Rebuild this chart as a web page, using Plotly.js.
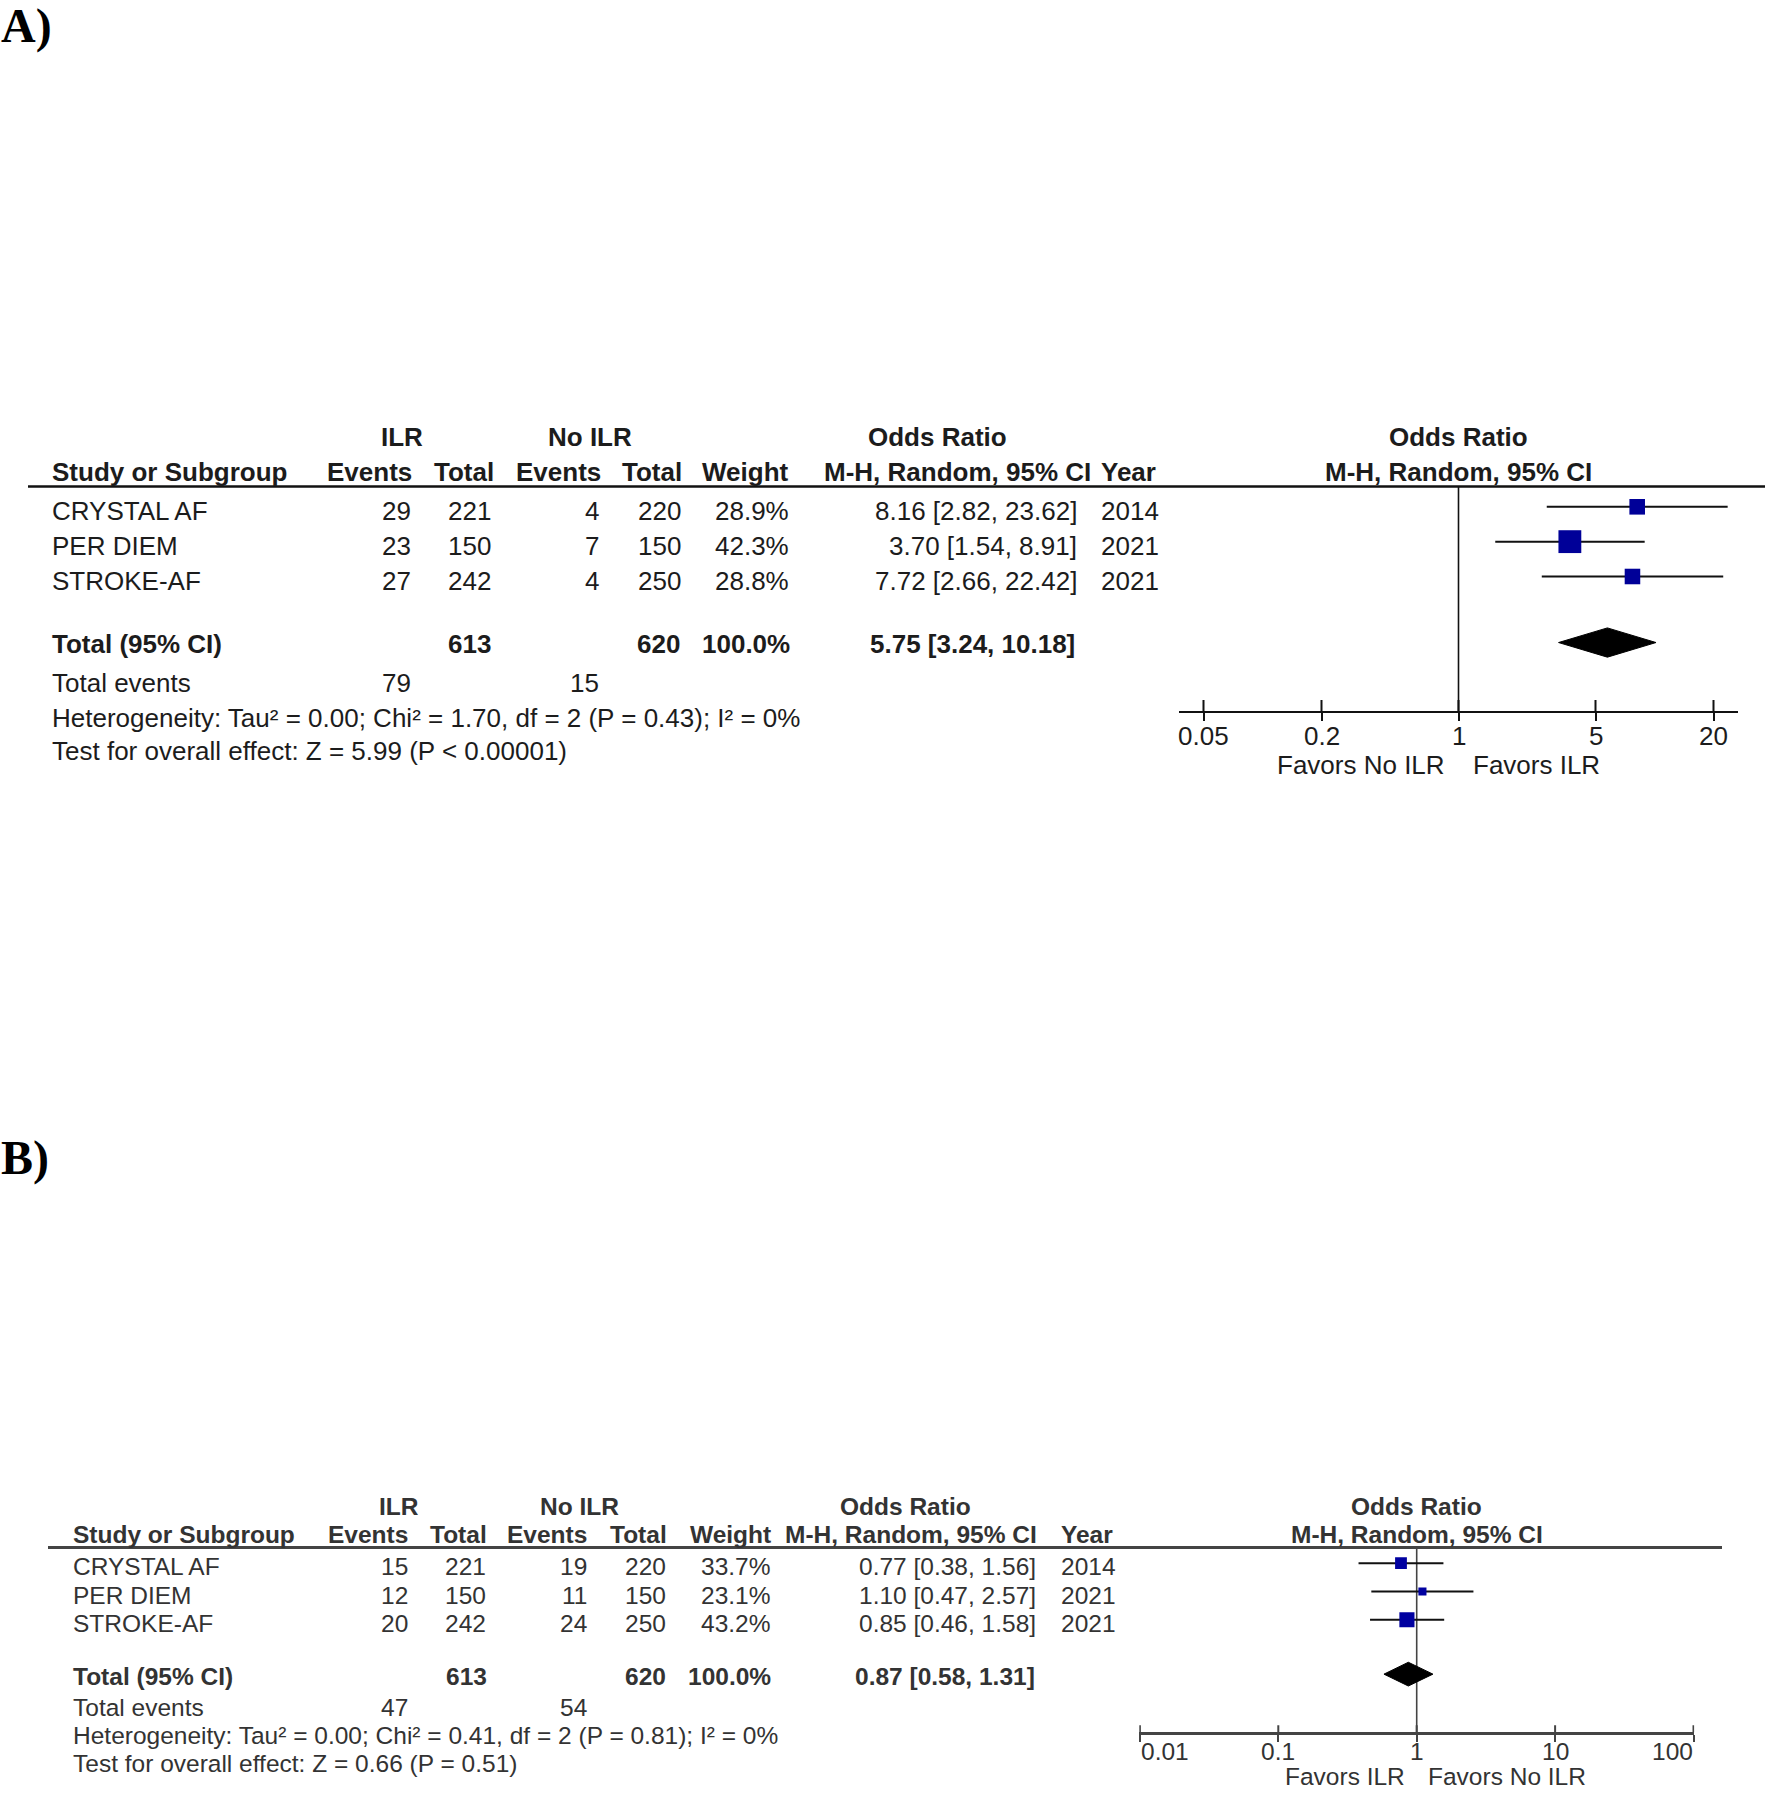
<!DOCTYPE html>
<html>
<head>
<meta charset="utf-8">
<script src="https://cdn.plot.ly/plotly-3.0.1.min.js"></script>
<style>html,body{margin:0;padding:0;background:#fff;}</style>
</head>
<body>
<div id="chart" style="width:1767px;height:1800px;"></div>
<script>
// ---------------- DATA ----------------
const studies = ['CRYSTAL AF', 'PER DIEM', 'STROKE-AF'];
const years = ['2014', '2021', '2021'];

// Panel A
const ilrEventsA = [29, 23, 27];
const ilrTotalA = [221, 150, 242];
const noIlrEventsA = [4, 7, 4];
const noIlrTotalA = [220, 150, 250];
const weightA = [28.9, 42.3, 28.8];
const orA = [8.16, 3.70, 7.72];
const ciLowA = [2.82, 1.54, 2.66];
const ciHighA = [23.62, 8.91, 22.42];
const pooledA = [5.75, 3.24, 10.18];      // OR, lower, upper
const sampleTotalsA = [613, 620];          // ILR, No ILR
const totalEventsA = [79, 15];             // ILR, No ILR
const hetA = 'Heterogeneity: Tau² = 0.00; Chi² = 1.70, df = 2 (P = 0.43); I² = 0%';
const testA = 'Test for overall effect: Z = 5.99 (P < 0.00001)';
const tickValsA = [0.05, 0.2, 1, 5, 20];
const tickTextA = ['0.05', '0.2', '1', '5', '20'];
const favorsA = ['Favors No ILR', 'Favors ILR'];

// Panel B
const ilrEventsB = [15, 12, 20];
const ilrTotalB = [221, 150, 242];
const noIlrEventsB = [19, 11, 24];
const noIlrTotalB = [220, 150, 250];
const weightB = [33.7, 23.1, 43.2];
const orB = [0.77, 1.10, 0.85];
const ciLowB = [0.38, 0.47, 0.46];
const ciHighB = [1.56, 2.57, 1.58];
const pooledB = [0.87, 0.58, 1.31];
const sampleTotalsB = [613, 620];
const totalEventsB = [47, 54];
const hetB = 'Heterogeneity: Tau² = 0.00; Chi² = 0.41, df = 2 (P = 0.81); I² = 0%';
const testB = 'Test for overall effect: Z = 0.66 (P = 0.51)';
const tickValsB = [0.01, 0.1, 1, 10, 100];
const tickTextB = ['0.01', '0.1', '1', '10', '100'];
const favorsB = ['Favors ILR', 'Favors No ILR'];

const panelLabels = ['A)', 'B)'];
const groupHeaders = ['ILR', 'No ILR', 'Odds Ratio'];
const colHeaders = ['Study or Subgroup', 'Events', 'Total', 'Events', 'Total', 'Weight', 'M-H, Random, 95% CI', 'Year'];
const totalLabels = ['Total (95% CI)', 'Total events'];

// ---------------- LAYOUT GEOMETRY ----------------
const W = 1767, H = 1800;
const SANS = 'Liberation Sans, Arial, sans-serif';
const SERIF = 'Liberation Serif, Times New Roman, serif';

const geo = {
  A: {
    font: 26, color: '#1c1c1c', lineColor: '#111',
    hdr1: 436.7, hdr2: 471.7, ruleY: 486.5, ruleX: [28, 1765],
    row0: 510.8, rowH: 34.85, totalIdx: 3.835, eventsIdx: 4.95, hetIdx: 5.95, testIdx: 6.9,
    markOffset: -4, diamondShift: 0.06,
    nameX: 50.5,
    cols: [412, 492, 600, 682, 790, 1078], yearX: 1100,
    hdrCols: [413, 495, 602, 683, 790, 1092], hdrYearX: 1100,
    totalCols: [492, 681, 791, 1076],
    eventsCols: [412, 600],
    grpX: [401.7, 590, 937.7],
    axisPx: [1178.5, 1738], onePx: 1458.5, decade: 196, axisY: 711, tickUp: 11, tickLen: 8,
    tickLabelY: 736, insetEnds: false,
    favorsY: 765, favorsX: [1446, 1472],
    sizeK: 0.54, sq: '#000098', axisW: 2, ruleW: 2.5, ciW: 2,
    labelY: 26
  },
  B: {
    font: 24.5, color: '#333', lineColor: '#444',
    hdr1: 1506, hdr2: 1534.7, ruleY: 1547.5, ruleX: [48, 1722],
    row0: 1566.7, rowH: 28.3, totalIdx: 3.87, eventsIdx: 4.99, hetIdx: 5.97, testIdx: 6.94,
    markOffset: -3.5, diamondShift: 0.05,
    nameX: 71.8,
    cols: [408.7, 487, 588, 667, 771, 1036.7], yearX: 1060,
    hdrCols: [408.7, 488, 588, 667.6, 772, 1038], hdrYearX: 1060,
    totalCols: [488, 667, 772, 1036],
    eventsCols: [408.7, 588],
    grpX: [399, 579, 906],
    axisPx: [1139.3, 1694.2], onePx: 1416.7, decade: 138.4, axisY: 1732.3, tickUp: 7, tickLen: 7,
    tickLabelY: 1751, insetEnds: true,
    favorsY: 1776.7, favorsX: [1406, 1427],
    sizeK: 0.35, sq: '#0000a0', axisW: 2.5, ruleW: 3, ciW: 2,
    labelY: 1158
  }
};

const annotations = [];
const shapes = [];
const traces = [];

function T(text, x, y, anchor, g, extra) {
  extra = extra || {};
  annotations.push({
    text: text, x: extra.xref ? x : x / W, y: 1 - y / H,
    xref: extra.xref || 'paper', yref: 'paper',
    xanchor: anchor, yanchor: 'middle', showarrow: false, borderpad: 0,
    font: { family: extra.family || SANS, size: extra.size || g.font, color: extra.color || g.color }
  });
}
const b = s => '<b>' + s + '</b>';
const f2 = v => v.toFixed(2);
const ciStr = (o, l, h) => f2(o) + ' [' + f2(l) + ', ' + f2(h) + ']';

function buildPanel(key, d, axN) {
  const g = geo[key];
  const rowY = i => g.row0 + g.rowH * i;

  // panel letter
  T(b(d.label), 0, g.labelY, 'left', g, { family: SERIF, size: 48, color: '#000' });

  // group headers
  T(b(groupHeaders[0]), g.grpX[0], g.hdr1, 'center', g);
  T(b(groupHeaders[1]), g.grpX[1], g.hdr1, 'center', g);
  T(b(groupHeaders[2]), g.grpX[2], g.hdr1, 'center', g);
  T(b(groupHeaders[2]), g.onePx, g.hdr1, 'center', g);
  // column headers
  T(b(colHeaders[0]), g.nameX, g.hdr2, 'left', g);
  for (let c = 1; c <= 6; c++) T(b(colHeaders[c]), g.hdrCols[c - 1], g.hdr2, 'right', g);
  T(b(colHeaders[7]), g.hdrYearX, g.hdr2, 'left', g);
  T(b(colHeaders[6]), g.onePx, g.hdr2, 'center', g);

  // header rule
  shapes.push({ type: 'line', xref: 'paper', yref: 'paper',
    x0: g.ruleX[0] / W, x1: g.ruleX[1] / W, y0: 1 - g.ruleY / H, y1: 1 - g.ruleY / H,
    line: { color: g.lineColor, width: g.ruleW } });

  // study rows
  studies.forEach((s, i) => {
    const y = rowY(i);
    T(s, g.nameX, y, 'left', g);
    T(String(d.ilrEv[i]), g.cols[0], y, 'right', g);
    T(String(d.ilrTot[i]), g.cols[1], y, 'right', g);
    T(String(d.noEv[i]), g.cols[2], y, 'right', g);
    T(String(d.noTot[i]), g.cols[3], y, 'right', g);
    T(d.w[i].toFixed(1) + '%', g.cols[4], y, 'right', g);
    T(ciStr(d.or[i], d.lo[i], d.hi[i]), g.cols[5], y, 'right', g);
    T(years[i], g.yearX, y, 'left', g);
  });
  // total row
  const ty = rowY(g.totalIdx);
  T(b(totalLabels[0]), g.nameX, ty, 'left', g);
  T(b(String(d.totals[0])), g.totalCols[0], ty, 'right', g);
  T(b(String(d.totals[1])), g.totalCols[1], ty, 'right', g);
  T(b(d.w.reduce((a, v) => a + v, 0).toFixed(1) + '%'), g.totalCols[2], ty, 'right', g);
  T(b(ciStr(d.pooled[0], d.pooled[1], d.pooled[2])), g.totalCols[3], ty, 'right', g);
  // total events
  const ey = rowY(g.eventsIdx);
  T(totalLabels[1], g.nameX, ey, 'left', g);
  T(String(d.events[0]), g.eventsCols[0], ey, 'right', g);
  T(String(d.events[1]), g.eventsCols[1], ey, 'right', g);
  T(d.het, g.nameX, rowY(g.hetIdx), 'left', g);
  T(d.test, g.nameX, rowY(g.testIdx), 'left', g);

  // favors
  T(d.favors[0], g.favorsX[0], g.favorsY, 'right', g);
  T(d.favors[1], g.favorsX[1], g.favorsY, 'left', g);

  // ---- forest plot axes ----
  const m0 = g.row0 + g.markOffset;
  const pxToIdx = p => (p - m0) / g.rowH;
  const yTop = pxToIdx(g.ruleY), yBot = pxToIdx(g.axisY);
  const xa = 'xaxis' + axN, ya = 'yaxis' + axN;
  const xr = 'x' + axN, yr = 'y' + axN;

  d.layoutAxes[xa] = {
    type: 'log', anchor: yr,
    domain: [g.axisPx[0] / W, g.axisPx[1] / W],
    range: [(g.axisPx[0] - g.onePx) / g.decade, (g.axisPx[1] - g.onePx) / g.decade],
    showline: true, linecolor: g.lineColor, linewidth: g.axisW,
    ticks: 'outside', ticklen: g.tickLen, tickwidth: 2, tickcolor: g.lineColor,
    tickmode: 'array', tickvals: d.tickVals, ticktext: d.tickText, showticklabels: false,
    showgrid: false, zeroline: false, fixedrange: true
  };
  d.layoutAxes[ya] = {
    anchor: xr, domain: [1 - g.axisY / H, 1 - g.ruleY / H],
    range: [yBot, yTop], visible: false, showgrid: false, zeroline: false, fixedrange: true
  };

  // tick labels (annotations on the log axis -> x given as log10 of the value)
  d.tickVals.forEach((v, k) => {
    let anc = 'center';
    if (g.insetEnds && k === 0) anc = 'left';
    if (g.insetEnds && k === d.tickVals.length - 1) anc = 'right';
    T(d.tickText[k], Math.log10(v), g.tickLabelY, anc, g, { xref: xr });
  });

  // vertical line of no effect
  traces.push({ x: [1, 1], y: [yTop, yBot], xaxis: xr, yaxis: yr, mode: 'lines',
    line: { color: g.lineColor, width: 1.6 }, hoverinfo: 'skip', showlegend: false });

  // tick marks rising above the axis line
  const tx = [], ty2 = [];
  const up = pxToIdx(g.axisY - g.tickUp);
  d.tickVals.forEach(v => { tx.push(v, v, null); ty2.push(yBot, up, null); });
  traces.push({ x: tx, y: ty2, xaxis: xr, yaxis: yr, mode: 'lines',
    line: { color: g.lineColor, width: 2 }, hoverinfo: 'skip', showlegend: false });

  // CI lines
  const cx = [], cy = [];
  studies.forEach((s, i) => { cx.push(d.lo[i], d.hi[i], null); cy.push(i, i, null); });
  traces.push({ x: cx, y: cy, xaxis: xr, yaxis: yr, mode: 'lines',
    line: { color: '#111', width: g.ciW }, hoverinfo: 'skip', showlegend: false });

  // study squares
  traces.push({ x: d.or, y: studies.map((s, i) => i), xaxis: xr, yaxis: yr, mode: 'markers',
    opacity: 1,
    marker: { symbol: 'square', color: g.sq, opacity: 1, size: d.w.map(w => w * g.sizeK), line: { width: 0 } },
    text: studies, showlegend: false });

  // pooled diamond
  const r = g.totalIdx + g.diamondShift, h = 0.42;
  traces.push({
    x: [d.pooled[1], d.pooled[0], d.pooled[2], d.pooled[0], d.pooled[1]],
    y: [r, r - h, r, r + h, r], xaxis: xr, yaxis: yr, mode: 'lines', fill: 'toself',
    fillcolor: '#000', line: { color: '#000', width: 1 }, hoverinfo: 'skip', showlegend: false
  });
}

const layoutAxes = {};
buildPanel('A', {
  label: panelLabels[0], ilrEv: ilrEventsA, ilrTot: ilrTotalA, noEv: noIlrEventsA, noTot: noIlrTotalA,
  w: weightA, or: orA, lo: ciLowA, hi: ciHighA, pooled: pooledA, totals: sampleTotalsA,
  events: totalEventsA, het: hetA, test: testA, tickVals: tickValsA, tickText: tickTextA,
  favors: favorsA, layoutAxes: layoutAxes
}, 2);
buildPanel('B', {
  label: panelLabels[1], ilrEv: ilrEventsB, ilrTot: ilrTotalB, noEv: noIlrEventsB, noTot: noIlrTotalB,
  w: weightB, or: orB, lo: ciLowB, hi: ciHighB, pooled: pooledB, totals: sampleTotalsB,
  events: totalEventsB, het: hetB, test: testB, tickVals: tickValsB, tickText: tickTextB,
  favors: favorsB, layoutAxes: layoutAxes
}, 3);

const layout = Object.assign({
  width: W, height: H,
  margin: { l: 0, r: 0, t: 0, b: 0, pad: 0 },
  paper_bgcolor: '#fff', plot_bgcolor: 'rgba(0,0,0,0)',
  showlegend: false,
  xaxis: { visible: false, range: [0, 1], domain: [0, 0.001], fixedrange: true },
  yaxis: { visible: false, range: [0, 1], domain: [0, 0.001], fixedrange: true },
  annotations: annotations,
  shapes: shapes
}, layoutAxes);

Plotly.newPlot('chart', traces, layout, { displayModeBar: false, staticPlot: true });
</script>
</body>
</html>
